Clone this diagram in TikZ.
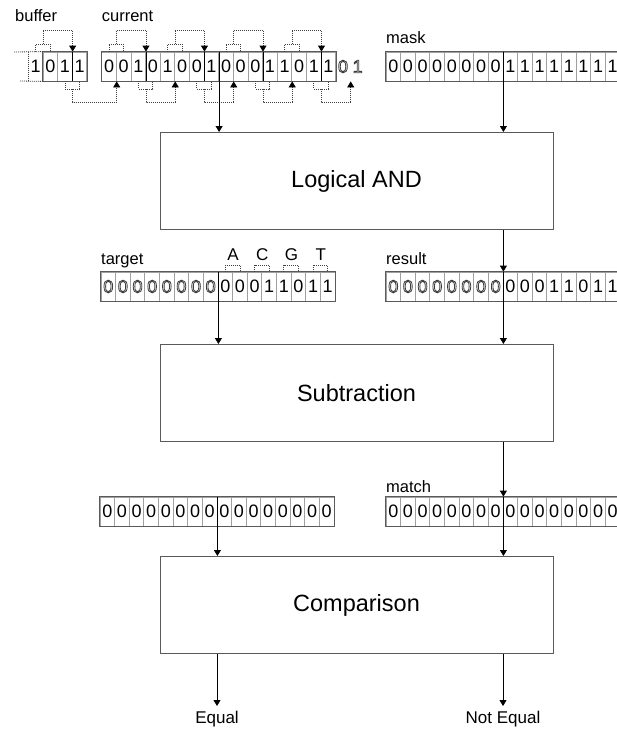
\documentclass[tikz,border=0pt]{standalone}
\usepackage{fontspec}
\setmainfont{Liberation Sans}
\usetikzlibrary{arrows.meta}
\definecolor{regline}{HTML}{5A5A5A}
\definecolor{divline}{HTML}{A0A0A0}
\definecolor{dotline}{HTML}{404040}
\definecolor{olc}{HTML}{3C3C3C}
\newcommand\hol[1]{\special{pdf:literal direct 1 Tr 0.8 w}\textcolor{olc}{#1}\special{pdf:literal direct 0 Tr}}
\tikzset{
 cell/.style={draw=divline, line width=0.8pt, minimum width=14.625pt, minimum height=29pt, inner sep=0pt, font=\fontsize{18}{18}\selectfont},
 cellnb/.style={cell, draw=none},
 regbox/.style={draw=regline, line width=0.9pt},
 darkdiv/.style={draw=black, line width=0.9pt},
 dot/.style={draw=dotline, line width=0.8pt, dash pattern=on 1pt off 1pt},
 dotarr/.style={dot, -{Triangle[width=7pt,length=6pt,color=black]}},
 arr/.style={draw=black, line width=0.8pt, -{Triangle[width=7pt,length=6pt]}},
 bigbox/.style={draw=regline, line width=1pt, minimum width=393pt, minimum height=97pt, inner sep=0pt, font=\fontsize{23.5}{23.5}\selectfont},
 lbl/.style={anchor=base west, inner sep=0pt, font=\fontsize{16.5}{16.5}\selectfont},
 lblc/.style={anchor=base, inner sep=0pt, font=\fontsize{17}{17}\selectfont},
}
% name, x0, ytop, digits, number of hollow digits, number of cells
\newcommand\regrow[6]{%
 \foreach \dg [count=\ii] in {#4} {
  \node[cell] (#1-\ii) at ({#2+(\ii-0.5)*14.625},{#3+14.5}) {\ifnum\ii>#5\relax\dg\else\hol{\dg}\fi};
 }
 \draw[regbox] (#1-1.north west) rectangle (#1-#6.south east);
}
\newcommand\toptransfer[3]{%
 \draw[dot] (#1.north) -- (#1.north |- 0,44) -- (#2.north |- 0,44) -- (#2.north);
 \draw[dotarr] (#1.north east |- 0,44) -- (#1.north east |- 0,30) -- (#3.north east |- 0,30) -- (#3.north east);
}
\newcommand\bottransfer[3]{%
 \draw[dot] (#1.south) -- (#1.south |- 0,89) -- (#2.south |- 0,89) -- (#2.south);
 \draw[dotarr] (#1.south east |- 0,89) -- (#1.south east |- 0,102) -- (#3.south east |- 0,102) -- (#3.south east);
}
\newcommand\pairmark[2]{%
 \draw[dot] (#1.north) -- (#1.north |- 0,265) -- (#2.north |- 0,265) -- (#2.north);
}
\begin{document}
\begin{tikzpicture}[x=1pt,y=-1pt]
\fill[white] (0,0) rectangle (617,729);
\useasboundingbox (0,0) rectangle (617,729);

% ---- labels
\node[lbl] (lbuf) at (15,21.5) {buffer};
\node[lbl] (lcur) at (101.7,21.5) {current};
\node[lbl] (lmask) at (386,43) {mask};
\node[lbl] (ltgt) at (101,264) {target};
\node[lbl] (lres) at (386,264) {result};
\node[lbl] (lmat) at (386,492) {match};

% ---- buffer
\node[cellnb] (buf-0) at (35.7,66.5) {1};
\regrow{buf}{43}{52}{0,1,1}{0}{3}
\draw[dot] (14,52) -- (buf-1.north west);
\draw[dot] (20,81) -- (buf-1.south west);
\draw[dot] (buf-0.north west) -- (buf-0.south west);
\draw[darkdiv] (buf-2.north east) -- (buf-2.south east);

% ---- current
\regrow{cur}{101.7}{52}{0,0,1,0,1,0,0,1,0,0,0,1,1,0,1,1}{0}{16}
\node[cellnb] (cur-17) at ({101.7+16.5*14.625},66.5) {\hol{0}};
\node[cellnb] (cur-18) at ({101.7+17.5*14.625},66.5) {\hol{1}};
\foreach \k in {3,7,8,11,15} \draw[darkdiv] (cur-\k.north east) -- (cur-\k.south east);

% ---- mask
\regrow{mask}{386}{52}{0,0,0,0,0,0,0,0,1,1,1,1,1,1,1,1}{0}{16}
\draw[darkdiv] (mask-8.north east) -- (mask-8.south east);

% ---- shift transfers
\toptransfer{buf-0}{buf-1}{buf-2}
\toptransfer{cur-1}{cur-2}{cur-3}
\toptransfer{cur-5}{cur-6}{cur-7}
\toptransfer{cur-9}{cur-10}{cur-11}
\toptransfer{cur-13}{cur-14}{cur-15}
\bottransfer{buf-2}{buf-3}{cur-1}
\bottransfer{cur-3}{cur-4}{cur-5}
\bottransfer{cur-7}{cur-8}{cur-9}
\bottransfer{cur-11}{cur-12}{cur-13}
\bottransfer{cur-15}{cur-16}{cur-17}

% ---- big boxes
\node[bigbox] (andbox) at (356.5,181) {Logical AND};
\node[bigbox] (subbox) at (356.5,393) {Subtraction};
\node[bigbox] (cmpbox) at (356.5,605) {Comparison};

% ---- target / result
\regrow{tgt}{101}{272}{0,0,0,0,0,0,0,0,0,0,0,1,1,0,1,1}{8}{16}
\regrow{res}{386}{272}{0,0,0,0,0,0,0,0,0,0,0,1,1,0,1,1}{8}{16}
\draw[darkdiv] (tgt-8.north east) -- (tgt-8.south east);
\draw[darkdiv] (res-8.north east) -- (res-8.south east);
\pairmark{tgt-9}{tgt-10}
\pairmark{tgt-11}{tgt-12}
\pairmark{tgt-13}{tgt-14}
\pairmark{tgt-15}{tgt-16}
\node[lblc] (lA) at (tgt-9.east |- 0,260) {A};
\node[lblc] (lC) at (tgt-11.east |- 0,260) {C};
\node[lblc] (lG) at (tgt-13.east |- 0,260) {G};
\node[lblc] (lT) at (tgt-15.east |- 0,260) {T};

% ---- zero / match
\regrow{zer}{100}{497}{0,0,0,0,0,0,0,0,0,0,0,0,0,0,0,0}{0}{16}
\regrow{mat}{386}{497}{0,0,0,0,0,0,0,0,0,0,0,0,0,0,0,0}{0}{16}
\draw[darkdiv] (zer-8.north east) -- (zer-8.south east);
\draw[darkdiv] (mat-8.north east) -- (mat-8.south east);

% ---- outputs
\coordinate (eqend) at (217,706);
\coordinate (neqend) at (503,706);
\node[lblc] (leq) at (217,723) {Equal};
\node[lblc] (lneq) at (503,723) {Not Equal};

% ---- connectors
\draw[arr] (cur-8.south east) -- (cur-8.south east |- andbox.north);
\draw[arr] (mask-8.south east) -- (mask-8.south east |- andbox.north);
\draw[arr] (res-8.north east |- andbox.south) -- (res-8.north east);
\draw[arr] (tgt-8.south east) -- (tgt-8.south east |- subbox.north);
\draw[arr] (res-8.south east) -- (res-8.south east |- subbox.north);
\draw[arr] (mat-8.north east |- subbox.south) -- (mat-8.north east);
\draw[arr] (zer-8.south east) -- (zer-8.south east |- cmpbox.north);
\draw[arr] (mat-8.south east) -- (mat-8.south east |- cmpbox.north);
\draw[arr] (eqend |- cmpbox.south) -- (eqend);
\draw[arr] (neqend |- cmpbox.south) -- (neqend);
\end{tikzpicture}
\end{document}
